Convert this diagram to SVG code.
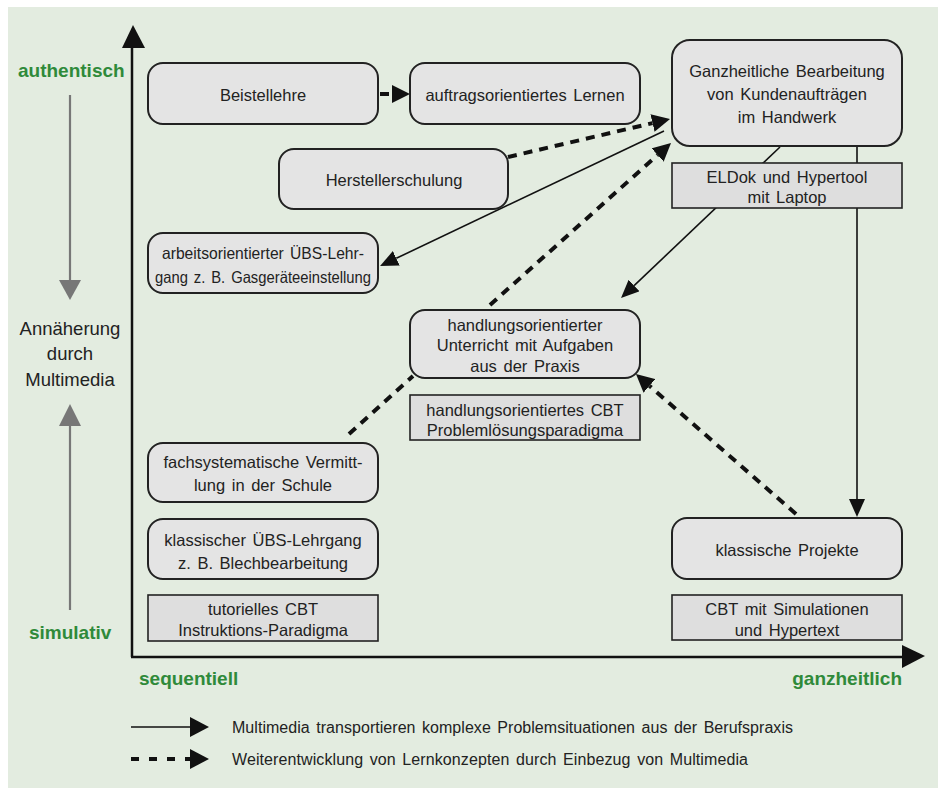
<svg xmlns="http://www.w3.org/2000/svg" width="938" height="793" viewBox="0 0 938 793">
<style>
.bg{fill:#e3ece0}
.rn{fill:#e4e4e4;stroke:#222;stroke-width:2}
.bx{fill:#dedede;stroke:#222;stroke-width:1.6}
.t{font-family:"Liberation Sans",Arial,sans-serif;font-size:16.5px;fill:#222;text-anchor:middle;word-spacing:2px}
.g{font-family:"Liberation Sans",Arial,sans-serif;font-size:19px;font-weight:bold;fill:#2f8a3a}
.lt{font-family:"Liberation Sans",Arial,sans-serif;font-size:18.5px;fill:#222;text-anchor:middle}
.lg{font-family:"Liberation Sans",Arial,sans-serif;font-size:16px;fill:#222;word-spacing:2px}
.sol{fill:none;stroke:#111;stroke-width:1.6}
.dsh{fill:none;stroke:#111;stroke-width:4;stroke-dasharray:9 7}
.ax{fill:none;stroke:#111;stroke-width:2.5}
.gr{fill:none;stroke:#777;stroke-width:2.2}
</style>
<defs>
<marker id="hs" viewBox="0 0 18 16" refX="0" refY="8" markerWidth="18" markerHeight="16" orient="auto" markerUnits="userSpaceOnUse"><path d="M0,0 L18,8 L0,16 z" fill="#111"/></marker>
<marker id="hd" viewBox="0 0 18 18" refX="0" refY="9" markerWidth="18" markerHeight="18" orient="auto" markerUnits="userSpaceOnUse"><path d="M0,0 L18,9 L0,18 z" fill="#111"/></marker>
</defs>
<rect x="0" y="0" width="938" height="793" fill="#ffffff"/>
<rect class="bg" x="8" y="7" width="930" height="781"/>

<g id="axes">
<line class="ax" x1="132" y1="657" x2="132" y2="46"/>
<polygon points="133,25 122,48 145,48" fill="#111"/>
<line class="ax" x1="131" y1="657" x2="904" y2="657"/>
<polygon points="925,656 902,645 902,668" fill="#111"/>
<text class="g" x="18" y="77">authentisch</text>
<text class="g" x="29" y="639">simulativ</text>
<text class="g" x="139" y="685">sequentiell</text>
<text class="g" x="902" y="685" text-anchor="end">ganzheitlich</text>
<line class="gr" x1="70" y1="95" x2="70" y2="282"/>
<polygon points="59,280 81,280 70,300" fill="#777"/>
<text class="lt" x="70" y="335">Annäherung</text>
<text class="lt" x="70" y="360">durch</text>
<text class="lt" x="70" y="386">Multimedia</text>
<line class="gr" x1="70" y1="424" x2="70" y2="610"/>
<polygon points="59,426 81,426 70,404" fill="#777"/>
</g>

<g id="connectors">
<line class="sol" x1="780" y1="147" x2="634.1" y2="285.6" marker-end="url(#hs)"/>
<line class="sol" x1="857" y1="146" x2="857" y2="499" marker-end="url(#hs)"/>
<line class="sol" x1="664" y1="131" x2="396.3" y2="258.3" marker-end="url(#hs)"/>
<line class="dsh" x1="380" y1="94" x2="392" y2="94" marker-end="url(#hd)"/>
<line class="dsh" x1="508" y1="157" x2="652.5" y2="123.1" marker-end="url(#hd)"/>
<line class="dsh" x1="490" y1="305" x2="657.6" y2="155" marker-end="url(#hd)"/>
<line class="dsh" x1="796" y1="514" x2="649.5" y2="385.9" marker-end="url(#hd)"/>
<line class="dsh" x1="349" y1="434" x2="413" y2="376"/>
</g>

<g id="n-beistellehre"><rect class="rn" x="148" y="63" width="230" height="61" rx="15"/><text class="t" x="263" y="101">Beistellehre</text></g>
<g id="n-auftrag"><rect class="rn" x="410" y="63" width="230" height="61" rx="15"/><text class="t" x="525" y="101">auftragsorientiertes Lernen</text></g>
<g id="n-ganzheitlich"><rect class="rn" x="672" y="40" width="230" height="106" rx="18"/>
<text class="t" x="787" y="77">Ganzheitliche Bearbeitung</text><text class="t" x="787" y="100">von Kundenaufträgen</text><text class="t" x="787" y="123">im Handwerk</text></g>
<g id="n-eldok"><rect class="bx" x="672" y="163" width="230" height="45"/>
<text class="t" x="787" y="183">ELDok und Hypertool</text><text class="t" x="787" y="203">mit Laptop</text></g>
<g id="n-hersteller"><rect class="rn" x="279" y="149" width="229" height="60" rx="15"/><text class="t" x="394" y="186">Herstellerschulung</text></g>
<g id="n-arbeits"><rect class="rn" x="148" y="233" width="230" height="60" rx="15"/>
<text class="t" x="263" y="259" textLength="202" lengthAdjust="spacingAndGlyphs">arbeitsorientierter ÜBS-Lehr-</text><text class="t" x="263" y="283" textLength="216" lengthAdjust="spacingAndGlyphs">gang z. B. Gasgeräteeinstellung</text></g>
<g id="n-handlung"><rect class="rn" x="410" y="310" width="230" height="68" rx="15"/>
<text class="t" x="525" y="331">handlungsorientierter</text><text class="t" x="525" y="351">Unterricht mit Aufgaben</text><text class="t" x="525" y="372">aus der Praxis</text></g>
<g id="n-hcbt"><rect class="bx" x="410" y="395" width="230" height="45"/>
<text class="t" x="525" y="416">handlungsorientiertes CBT</text><text class="t" x="525" y="436">Problemlösungsparadigma</text></g>
<g id="n-fach"><rect class="rn" x="148" y="443" width="230" height="59" rx="15"/>
<text class="t" x="263" y="468">fachsystematische Vermitt-</text><text class="t" x="263" y="491">lung in der Schule</text></g>
<g id="n-klassisch"><rect class="rn" x="148" y="519" width="230" height="60" rx="15"/>
<text class="t" x="263" y="546">klassischer ÜBS-Lehrgang</text><text class="t" x="263" y="569">z. B. Blechbearbeitung</text></g>
<g id="n-tutoriell"><rect class="bx" x="148" y="595" width="230" height="46"/>
<text class="t" x="263" y="615">tutorielles CBT</text><text class="t" x="263" y="636">Instruktions-Paradigma</text></g>
<g id="n-projekte"><rect class="rn" x="672" y="518" width="230" height="61" rx="15"/><text class="t" x="787" y="556">klassische Projekte</text></g>
<g id="n-cbtsim"><rect class="bx" x="672" y="595" width="230" height="45"/>
<text class="t" x="787" y="615">CBT mit Simulationen</text><text class="t" x="787" y="636">und Hypertext</text></g>

<g id="legend">
<line class="sol" x1="131" y1="727" x2="191" y2="727"/>
<polygon points="190,717 209,727 190,737" fill="#111"/>
<text class="lg" x="232" y="733" textLength="561">Multimedia transportieren komplexe Problemsituationen aus der Berufspraxis</text>
<line x1="131" y1="759" x2="191" y2="759" stroke="#111" stroke-width="4" stroke-dasharray="8 10"/>
<polygon points="190,749 209,759 190,769" fill="#111"/>
<text class="lg" x="232" y="765" textLength="516">Weiterentwicklung von Lernkonzepten durch Einbezug von Multimedia</text>
</g>
</svg>
